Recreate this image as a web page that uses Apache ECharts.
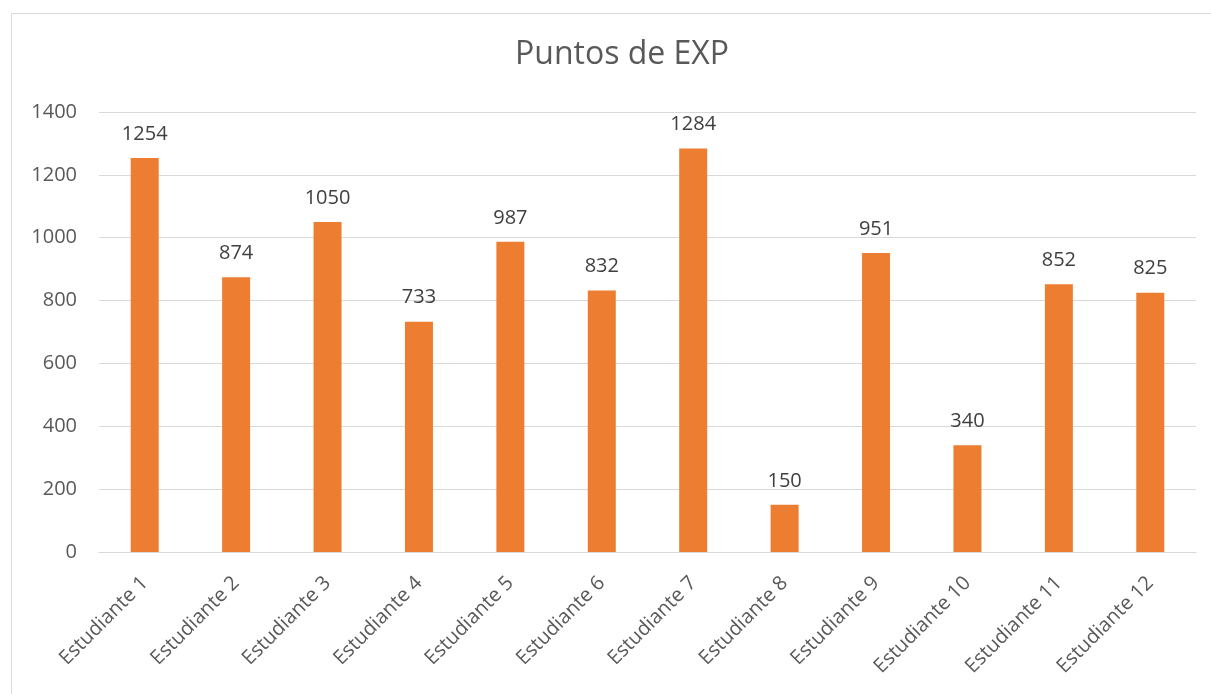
<!DOCTYPE html>
<html>
<head>
<meta charset="utf-8">
<script src="https://cdn.jsdelivr.net/npm/echarts@6/dist/echarts.min.js"></script>
<style>
  html, body { margin: 0; padding: 0; background: #fff; }
  #chart { width: 1211px; height: 694px; }
</style>
</head>
<body>
<div id="chart"></div>
<script>
var titulo = 'Puntos de EXP';
var estudiantes = ['Estudiante 1', 'Estudiante 2', 'Estudiante 3', 'Estudiante 4', 'Estudiante 5', 'Estudiante 6',
    'Estudiante 7', 'Estudiante 8', 'Estudiante 9', 'Estudiante 10', 'Estudiante 11', 'Estudiante 12'];
var puntos = [1254, 874, 1050, 733, 987, 832, 1284, 150, 951, 340, 852, 825];
var ticksY = [0, 200, 400, 600, 800, 1000, 1200, 1400];

var fuente = 'Open Sans';
var myChart = echarts.init(document.getElementById('chart'));

myChart.setOption({
    animation: false,
    graphic: [{
        type: 'rect',
        shape: { x: 11.5, y: 13.5, width: 1210, height: 700 },
        style: { fill: 'none', stroke: '#d9d9d9', lineWidth: 1 },
        silent: true
    }],
    title: {
        text: titulo,
        left: 510,
        top: 34,
        textStyle: { fontFamily: fuente, fontSize: 32, fontWeight: 'normal', color: '#595959' }
    },
    grid: { left: 99, right: 15, top: 112, bottom: 142 },
    xAxis: {
        type: 'category',
        data: estudiantes,
        axisLine: { lineStyle: { color: '#d9d9d9', width: 1 } },
        axisTick: { show: false },
        axisLabel: {
            rotate: 45,
            interval: 0,
            margin: 28,
            fontFamily: fuente,
            fontSize: 20,
            color: '#595959'
        }
    },
    yAxis: {
        type: 'value',
        min: ticksY[0],
        max: ticksY[ticksY.length - 1],
        interval: 200,
        axisLine: { show: false },
        axisTick: { show: false },
        splitLine: { lineStyle: { color: '#d9d9d9', width: 1 } },
        axisLabel: {
            fontFamily: fuente, fontSize: 20, color: '#595959', margin: 22,
            formatter: function (v) { return String(v); }
        }
    },
    series: [{
        type: 'bar',
        data: puntos,
        barWidth: 28,
        itemStyle: { color: '#ed7d31' },
        label: {
            show: true,
            position: 'top',
            distance: 14,
            fontFamily: fuente,
            fontSize: 20,
            color: '#404040'
        }
    }]
});
</script>
</body>
</html>
